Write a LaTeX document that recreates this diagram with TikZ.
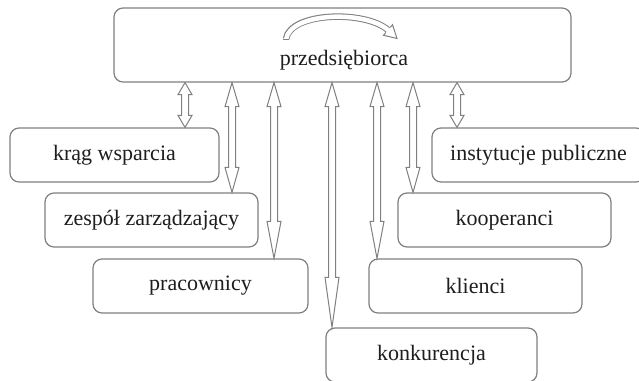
\documentclass[tikz,border=0pt]{standalone}
\usepackage{fontspec}
\setmainfont{Liberation Serif}
\definecolor{bordergray}{RGB}{128,128,128}
\definecolor{txt}{RGB}{30,30,30}
\tikzset{
  box/.style={draw=bordergray, line width=1.2pt, rounded corners=9pt,
    minimum height=54pt, inner sep=0pt, text=txt,
    font=\fontsize{22}{26}\selectfont},
  arr/.style={draw=bordergray, line width=1pt, fill=white, line join=miter},
}
\newcommand\blockarr[5]{%
  \path (#1,0 |- #2.south) coordinate (bA) (#1,0 |- #3.north) coordinate (bB);
  \draw[arr] (bA) -- ([shift={(7pt,-#4pt)}]bA) -- ([shift={(3.5pt,-#4pt)}]bA)
    -- ([shift={(3.5pt,#5pt)}]bB) -- ([shift={(7pt,#5pt)}]bB) -- (bB)
    -- ([shift={(-7pt,#5pt)}]bB) -- ([shift={(-3.5pt,#5pt)}]bB)
    -- ([shift={(-3.5pt,-#4pt)}]bA) -- ([shift={(-7pt,-#4pt)}]bA) -- cycle;}
\begin{document}
\begin{tikzpicture}[x=1pt,y=-1pt]
\clip (0,0) rectangle (639,380);
\fill[white] (0,0) rectangle (639,380);
% nodes
\node[box, minimum width=457pt, minimum height=74pt] (top) at (342.5,45) {};
\node[text=txt, font=\fontsize{22}{26}\selectfont, anchor=base, inner sep=0pt] (toplabel) at (344,65) {przedsiębiorca};
\node[box, minimum width=209pt] (krag) at (114.5,155) {krąg wsparcia};
\node[box, minimum width=213pt] (zesp) at (151.5,220) {zespół zarządzający};
\node[box, minimum width=215pt] (prac) at (200.5,286) {pracownicy};
\node[box, minimum width=211pt] (konk) at (431.5,355) {konkurencja};
\node[box, minimum width=213pt] (klie) at (475.5,286) {klienci};
\node[box, minimum width=213pt] (koop) at (504.5,220) {kooperanci};
\node[box, minimum width=213pt] (inst) at (538.5,155) {instytucje publiczne};
% vertical double arrows
\blockarr{185}{top}{krag}{12}{12}
\blockarr{232}{top}{zesp}{24}{25}
\blockarr{274}{top}{prac}{24}{37}
\blockarr{332}{top}{konk}{24}{50}
\blockarr{377}{top}{klie}{24}{37}
\blockarr{413}{top}{koop}{24}{25}
\blockarr{457}{top}{inst}{12}{12}
% curved arrow inside top box
\draw[bordergray, line width=6.5pt] (286,39) .. controls (290,12) and (365,10) .. (388,30);
\draw[white, line width=4.5pt] (286,39.5) .. controls (290,12) and (365,10) .. (388,30);
\draw[bordergray, line width=1pt] (282.8,39.3) -- (289.3,39.3);
\fill[white] (383.5,35.3) -- (397,38.5) -- (392.5,24.7) -- cycle;
\draw[bordergray, line width=1pt, line join=miter] (385.9,32.5) -- (383.5,35.3) -- (397,38.5) -- (392.5,24.7) -- (390.3,27.4);
\end{tikzpicture}
\end{document}
